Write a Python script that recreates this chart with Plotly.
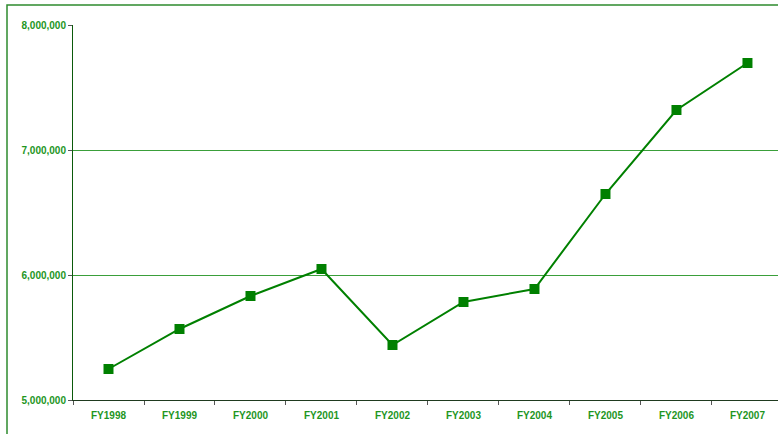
import plotly.graph_objects as go

# Fiscal years and yearly totals
years = ["FY1998", "FY1999", "FY2000", "FY2001", "FY2002",
         "FY2003", "FY2004", "FY2005", "FY2006", "FY2007"]
totals = [5248000, 5568000, 5832000, 6048000, 5440000,
          5784000, 5888000, 6648000, 7320000, 7696000]
y_ticks = [5000000, 6000000, 7000000, 8000000]

GREEN = "#008000"
LABEL = "#1E961E"
GRID = "#3A9F3A"
FONT = "Liberation Sans, Arial, sans-serif"

fig = go.Figure(go.Scatter(
    x=years, y=totals, mode="lines+markers",
    line=dict(color=GREEN, width=2),
    marker=dict(symbol="square", size=10, color=GREEN),
    hoverinfo="x+y",
))

fig.update_layout(
    width=778, height=434, autosize=False,
    margin=dict(l=73, r=0, t=25, b=34),
    paper_bgcolor="white", plot_bgcolor="white",
    showlegend=False,
    font=dict(family=FONT, size=10, color=LABEL),
)

fig.update_xaxes(
    type="category", range=[-0.5, 9.43],
    showgrid=False, showline=True, linecolor="#1F3A1F", linewidth=1,
    ticks="outside", tickson="boundaries", ticklen=4, tickcolor="#555555",
    tickfont=dict(size=10, color=LABEL, family=FONT, weight="bold"),
    ticklabelstandoff=6, zeroline=False,
)
fig.update_yaxes(
    range=[5000000, 8000000], tickvals=y_ticks, tickformat=",",
    showgrid=True, gridcolor=GRID, gridwidth=1,
    showline=True, linecolor="#0B5A0B", linewidth=1,
    ticks="outside", ticklen=4, tickcolor="#555555",
    tickfont=dict(size=10, color=LABEL, family=FONT, weight="bold"),
    zeroline=False,
)

# outer frame along the top and left edges
fig.add_shape(type="rect", xref="paper", yref="paper",
              x0=(7 - 73) / 705, x1=1.05, y0=-0.2, y1=(400 - 5) / 375,
              line=dict(color="#2E8B2E", width=1.5), fillcolor="rgba(0,0,0,0)",
              layer="below")

fig.write_html("out.html")
